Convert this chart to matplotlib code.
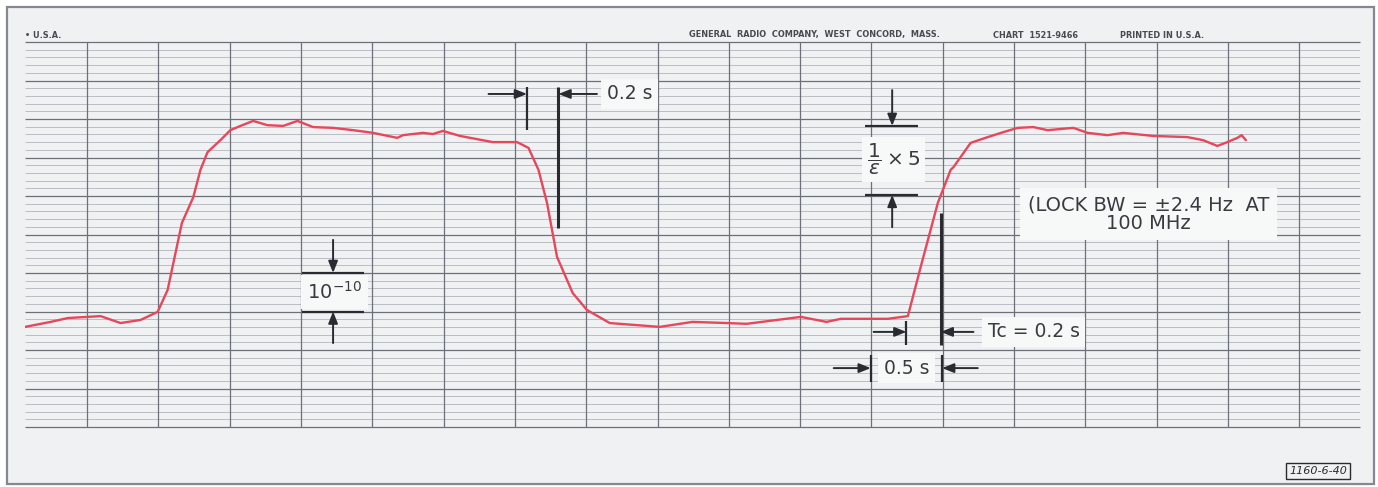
import matplotlib
matplotlib.use("Agg")
import matplotlib.pyplot as plt
import numpy as np
from matplotlib.patches import Rectangle

W, H = 1378, 487

# recorder trace: time in seconds from the left edge of the grid,
# pen deflection in major chart divisions (0 = bottom line, 10 = top line)
trace_t = [0.00, 0.18, 0.30, 0.53, 0.67, 0.81, 0.93, 1.00, 1.10, 1.18,
           1.23, 1.28, 1.37, 1.44, 1.51, 1.60, 1.70, 1.81, 1.91, 2.02,
           2.16, 2.30, 2.44, 2.61, 2.65, 2.79, 2.86, 2.93, 3.05, 3.28,
           3.45, 3.53, 3.60, 3.66, 3.73, 3.84, 3.94, 4.10, 4.45, 4.68,
           4.92, 5.06, 5.44, 5.62, 5.72, 6.05, 6.19, 6.28, 6.40, 6.49,
           6.51, 6.63, 6.75, 6.86, 6.96, 7.07, 7.17, 7.35, 7.45, 7.59,
           7.70, 7.91, 8.15, 8.26, 8.36, 8.43, 8.50, 8.53, 8.56]
trace_y = [2.60, 2.73, 2.83, 2.88, 2.70, 2.78, 2.99, 3.56, 5.30, 5.97,
           6.68, 7.14, 7.45, 7.71, 7.82, 7.95, 7.84, 7.82, 7.95, 7.79,
           7.77, 7.71, 7.64, 7.51, 7.58, 7.64, 7.61, 7.69, 7.56, 7.40,
           7.40, 7.25, 6.68, 5.82, 4.42, 3.48, 3.04, 2.70, 2.60, 2.73,
           2.70, 2.68, 2.86, 2.73, 2.81, 2.81, 2.88, 4.16, 5.82, 6.68,
           6.75, 7.38, 7.53, 7.66, 7.77, 7.79, 7.71, 7.77, 7.64, 7.58,
           7.64, 7.56, 7.53, 7.45, 7.30, 7.40, 7.51, 7.58, 7.45]

# chart paper ruling
time_per_div = 0.5
first_rule_t = 0.435
n_time_rules = 18
paper_len_t = 9.36
n_major_y = 10
minor_per_major = 5

PAPER = "#eff1f3"
BOX = "#f7f8f8"
INK = "#2a2b30"
MAJOR = "#6b7079"
MINOR = "#b2b6bd"
TRACE = "#e6475b"
FONT = "DejaVu Sans"

plt.rcParams["font.family"] = FONT
plt.rcParams["mathtext.fontset"] = "dejavusans"

fig = plt.figure(figsize=(W / 100, H / 100), dpi=100)
fig.patch.set_facecolor("white")


def fpos(x, y):
    return x / W, 1 - y / H


# outer sheet border
fig.add_artist(Rectangle(fpos(7, 484), 1367 / W, 477 / H, transform=fig.transFigure,
                         facecolor=PAPER, edgecolor="#85888f", lw=1.6, zorder=0))

ax = fig.add_axes([25 / W, 60 / H, 1335 / W, 385 / H])
ax.set_xlim(0, paper_len_t)
ax.set_ylim(0, n_major_y)
ax.set_facecolor("none")
ax.axis("off")

# ruling: light minor lines, darker major lines, vertical time lines
minor_y = [v for v in np.arange(0, n_major_y + 1e-9, 1 / minor_per_major)
           if abs(v - round(v)) > 1e-6]
ax.hlines(minor_y, 0, paper_len_t, color=MINOR, lw=0.6, zorder=1)
ax.hlines(np.arange(n_major_y + 1), 0, paper_len_t, color=MAJOR, lw=0.9, zorder=1.2,
          clip_on=False)
time_rules = first_rule_t + time_per_div * np.arange(n_time_rules)
ax.vlines(time_rules, 0, n_major_y, color=MAJOR, lw=0.9, zorder=1.2, clip_on=False)

ax.plot(trace_t, trace_y, color=TRACE, lw=1.7, solid_joinstyle="round",
        solid_capstyle="round", zorder=4)


def arrow(x0, y0, x1, y1):
    ax.annotate("", xy=(x1, y1), xytext=(x0, y0),
                arrowprops=dict(arrowstyle="-|>,head_length=0.7,head_width=0.28",
                                color=INK, lw=1.4, shrinkA=0, shrinkB=0),
                zorder=7)


def rule(x0, y0, x1, y1, lw=1.6):
    ax.plot([x0, x1], [y0, y1], color=INK, lw=lw, solid_capstyle="butt", zorder=7)


def label(x, y, s, size=13, ha="center", pad=0.3, **kw):
    ax.text(x, y, s, fontsize=size, ha=ha, va="center", color="#3a3b40", zorder=6,
            bbox=dict(boxstyle=f"square,pad={pad}", fc=BOX, ec="none"), **kw)


# 0.2 s marker near the falling edge
arrow(3.25, 8.65, 3.52, 8.65)
rule(3.52, 8.83, 3.52, 7.71)
rule(3.74, 8.83, 3.74, 5.17, lw=2.2)
arrow(4.01, 8.65, 3.74, 8.65)
label(4.08, 8.65, "0.2 s", size=13.5, ha="left")

# 10^-10 scale marker
label(2.17, 3.5, r"$10^{-10}$", size=14)
rule(1.94, 4.0, 2.38, 4.0)
rule(1.94, 3.0, 2.38, 3.0)
arrow(2.16, 4.86, 2.16, 4.0)
arrow(2.16, 2.18, 2.16, 3.0)

# 1/e x 5 marker
label(6.09, 6.95, r"$\dfrac{1}{\varepsilon}\times 5$", size=14.5, pad=0.25)
rule(5.89, 7.82, 6.26, 7.82)
rule(5.89, 6.03, 6.26, 6.03)
arrow(6.08, 8.75, 6.08, 7.82)
arrow(6.08, 5.19, 6.08, 6.03)

# lock bandwidth note
label(7.875, 5.53, "(LOCK BW = \u00b12.4 Hz  AT\n100 MHz", size=14, pad=0.4,
      linespacing=0.95)

# time constant marker
rule(6.42, 5.56, 6.42, 2.13, lw=2.2)
arrow(5.95, 2.47, 6.18, 2.47)
rule(6.18, 2.75, 6.18, 2.13)
arrow(6.65, 2.47, 6.42, 2.47)
label(6.75, 2.47, "Tc = 0.2 s", size=13.5, ha="left")

# 0.5 s division marker
arrow(5.67, 1.53, 5.93, 1.53)
rule(5.93, 1.87, 5.93, 1.17)
rule(6.43, 1.87, 6.43, 1.17)
arrow(6.68, 1.53, 6.43, 1.53)
label(6.18, 1.53, "0.5 s", size=13.5)

# printed sheet legends
hdr = dict(fontsize=5.9, weight="bold", color="#4a4b50", va="center")
fig.text(*fpos(25, 35), "\u2022 U.S.A.", **hdr)
fig.text(*fpos(689, 35), "GENERAL  RADIO  COMPANY,  WEST  CONCORD,  MASS.", **hdr)
fig.text(*fpos(993, 35), "CHART  1521-9466", **hdr)
fig.text(*fpos(1120, 35), "PRINTED IN U.S.A.", **hdr)
fig.text(*fpos(1318, 471), "1160-6-40", fontsize=8, style="italic", color=INK,
         ha="center", va="center",
         bbox=dict(boxstyle="square,pad=0.25", fc="none", ec=INK, lw=1.0))

fig.savefig("out.png", dpi=100, facecolor=fig.get_facecolor())
